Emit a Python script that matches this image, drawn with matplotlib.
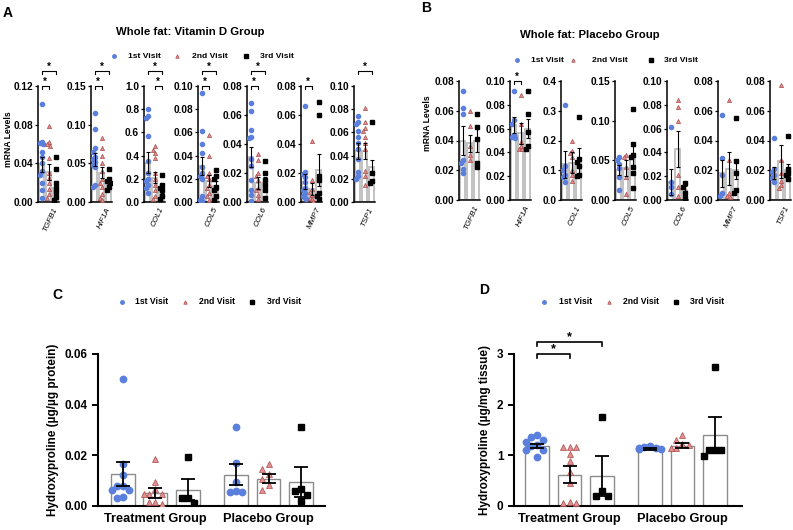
import numpy as np
import matplotlib
matplotlib.use("Agg")
import matplotlib.pyplot as plt
from matplotlib.lines import Line2D

plt.rcParams['font.family'] = ['Liberation Sans', 'DejaVu Sans']
plt.rcParams['font.weight'] = 'bold'
plt.rcParams['axes.labelweight'] = 'bold'

BLUE = '#5b7fdc'
RED = '#e39090'
RED_EDGE = '#a94a4a'

genes = ['TGFB1', 'HIF1A', 'COL1', 'COL5', 'COL6', 'MMP7', 'TSP1']
visits = ['1st Visit', '2nd Visit', '3rd Visit']

# ---- panel A: whole fat, vitamin D group ----
a_ymax = [0.12, 0.15, 1.0, 0.10, 0.08, 0.08, 0.10]
a_ystep = [0.04, 0.05, 0.2, 0.02, 0.02, 0.02, 0.02]
a_visit1 = [
    [0.101, 0.062, 0.061, 0.060, 0.052, 0.047, 0.040, 0.032, 0.028, 0.020, 0.012, 0.004],
    [0.115, 0.095, 0.070, 0.065, 0.058, 0.055, 0.052, 0.048, 0.045, 0.022, 0.020],
    [0.80, 0.74, 0.72, 0.57, 0.35, 0.25, 0.20, 0.18, 0.15, 0.12, 0.08],
    [0.094, 0.061, 0.050, 0.042, 0.030, 0.025, 0.022, 0.020, 0.005, 0.002, 0.001],
    [0.068, 0.063, 0.050, 0.045, 0.044, 0.030, 0.025, 0.015, 0.008, 0.005, 0.001],
    [0.066, 0.021, 0.019, 0.017, 0.014, 0.010, 0.008, 0.006, 0.004, 0.003, 0.002],
    [0.074, 0.069, 0.067, 0.061, 0.056, 0.051, 0.046, 0.037, 0.026, 0.022, 0.020],
]
a_visit2 = [
    [0.079, 0.062, 0.060, 0.058, 0.046, 0.030, 0.025, 0.020, 0.013, 0.008, 0.004],
    [0.083, 0.070, 0.060, 0.050, 0.040, 0.030, 0.025, 0.020, 0.010, 0.005, 0.003],
    [0.48, 0.45, 0.42, 0.38, 0.25, 0.20, 0.15, 0.10, 0.05, 0.03],
    [0.058, 0.040, 0.025, 0.022, 0.020, 0.015, 0.012, 0.008, 0.005, 0.002],
    [0.033, 0.029, 0.020, 0.018, 0.015, 0.010, 0.008, 0.005, 0.002],
    [0.042, 0.015, 0.009, 0.007, 0.005, 0.003, 0.002, 0.001],
    [0.081, 0.069, 0.064, 0.061, 0.056, 0.051, 0.046, 0.027, 0.022, 0.015],
]
a_visit3 = [
    [0.047, 0.034, 0.020, 0.015, 0.010, 0.005, 0.002],
    [0.043, 0.030, 0.027, 0.025, 0.020, 0.015],
    [0.23, 0.15, 0.12, 0.10, 0.05, 0.03],
    [0.028, 0.022, 0.020, 0.013, 0.010, 0.005, 0.002],
    [0.028, 0.020, 0.015, 0.012, 0.008, 0.003],
    [0.069, 0.060, 0.018, 0.015, 0.006, 0.004, 0.002],
    [0.069, 0.025, 0.018, 0.016],
]
a_mean = [[0.039, 0.031, 0.015], [0.055, 0.038, 0.027], [0.34, 0.21, 0.11],
          [0.031, 0.018, 0.014], [0.031, 0.013, 0.013], [0.014, 0.009, 0.022],
          [0.044, 0.044, 0.030]]
a_sem = [[0.008, 0.008, 0.007], [0.008, 0.007, 0.004], [0.09, 0.05, 0.03],
         [0.008, 0.005, 0.004], [0.007, 0.004, 0.004], [0.005, 0.004, 0.011],
         [0.007, 0.007, 0.006]]
# (bar i, bar j, level)
a_sig = [[(0, 1, 0), (0, 2, 1)], [(0, 1, 0), (0, 2, 1)], [(1, 2, 0), (0, 2, 1)],
         [(0, 1, 0), (0, 2, 1)], [(0, 1, 0), (0, 2, 1)], [(0, 1, 0)], [(0, 2, 1)]]

# ---- panel B: whole fat, placebo group ----
b_ymax = [0.08, 0.10, 0.4, 0.15, 0.10, 0.08, 0.08]
b_ystep = [0.02, 0.02, 0.1, 0.05, 0.02, 0.02, 0.02]
b_visit1 = [
    [0.073, 0.062, 0.058, 0.027, 0.025, 0.021, 0.018],
    [0.092, 0.067, 0.064, 0.055, 0.053, 0.052],
    [0.32, 0.114, 0.10, 0.084, 0.076, 0.062],
    [0.054, 0.050, 0.046, 0.040, 0.029, 0.013],
    [0.061, 0.015, 0.011, 0.005],
    [0.057, 0.028, 0.017, 0.0045, 0.003],
    [0.042, 0.021, 0.019, 0.017, 0.015, 0.012],
]
b_visit2 = [
    [0.060, 0.050, 0.036, 0.030, 0.027],
    [0.088, 0.064, 0.049, 0.045, 0.043, 0.043],
    [0.20, 0.165, 0.157, 0.143, 0.10, 0.084, 0.065],
    [0.057, 0.054, 0.042, 0.029, 0.008],
    [0.084, 0.078, 0.066, 0.021, 0.011, 0.003],
    [0.067, 0.027, 0.0045, 0.003, 0.002],
    [0.077, 0.027, 0.018, 0.013, 0.010, 0.008],
]
b_visit3 = [
    [0.058, 0.049, 0.041, 0.025, 0.022],
    [0.092, 0.072, 0.057, 0.045, 0.043],
    [0.28, 0.137, 0.129, 0.114, 0.084, 0.08],
    [0.115, 0.071, 0.057, 0.054, 0.042, 0.034, 0.015],
    [0.014, 0.011, 0.006, 0.002],
    [0.055, 0.026, 0.018, 0.007, 0.0045],
    [0.043, 0.021, 0.018, 0.017, 0.014],
]
b_mean = [[0.040, 0.038, 0.040], [0.063, 0.056, 0.060], [0.12, 0.125, 0.13],
          [0.038, 0.040, 0.055], [0.015, 0.043, 0.008], [0.018, 0.021, 0.020],
          [0.018, 0.026, 0.020]]
b_sem = [[0.010, 0.006, 0.008], [0.007, 0.009, 0.008], [0.045, 0.035, 0.045],
         [0.006, 0.010, 0.013], [0.011, 0.015, 0.004], [0.009, 0.011, 0.006],
         [0.004, 0.011, 0.004]]
b_sig = [[], [(0, 1, 0)], [], [], [], [], []]

# ---- panel C / D: hydroxyproline ----
groups = ['Treatment Group', 'Placebo Group']
c_points = [
    [0.050, 0.0164, 0.0124, 0.0077, 0.0077, 0.0065, 0.0063, 0.0035, 0.0033],
    [0.0185, 0.0095, 0.0066, 0.0046, 0.0046, 0.0046, 0.0016, 0.0016, 0.0009],
    [0.0193, 0.0032, 0.0032, 0.0011],
    [0.031, 0.0168, 0.0095, 0.0058, 0.0056, 0.0054],
    [0.0164, 0.0148, 0.0128, 0.0108, 0.0082, 0.0062],
    [0.0313, 0.0069, 0.0060, 0.0045, 0.0019],
]
c_mean = [0.0125, 0.0052, 0.0065, 0.0124, 0.0108, 0.0095]
c_sem = [0.0048, 0.0020, 0.0043, 0.0042, 0.0018, 0.0060]

d_points = [
    [1.40, 1.36, 1.30, 1.27, 1.20, 1.18, 1.11, 1.11, 0.97],
    [1.17, 1.17, 1.17, 1.02, 0.88, 0.67, 0.46, 0.08, 0.06, 0.06],
    [1.76, 0.29, 0.20, 0.20],
    [1.18, 1.16, 1.15, 1.14, 1.13, 1.12],
    [1.40, 1.31, 1.23, 1.20, 1.15, 1.15],
    [2.75, 1.11, 1.11, 1.10, 0.98],
]
d_mean = [1.18, 0.62, 0.59, 1.13, 1.19, 1.40]
d_sem = [0.045, 0.16, 0.39, 0.02, 0.05, 0.35]

W, H = 793, 530
fig = plt.figure(figsize=(W / 100, H / 100), dpi=100)

MARK = [dict(marker='o', color=BLUE, mec=BLUE),
        dict(marker='^', color=RED, mec=RED_EDGE, mew=0.5),
        dict(marker='s', color='k', mec='k')]


def rect(l, t, w, h):
    return [l / W, 1 - (t + h) / H, w / W, h / H]


def swarm(vals, center, span, step, dy, half):
    vals = np.asarray(vals, float)
    xs = np.zeros(len(vals))
    placed = []
    for i in np.argsort(-vals):
        for c in [0, -1, 1, -2, 2, -3, 3]:
            x = c * step
            if all(abs(vals[i] - vals[j]) > dy * span or abs(x - xs[j]) > step * 0.9
                   for j in placed):
                break
        xs[i] = x
        placed.append(i)
    return center + np.clip(xs, -half, half)


def star_bracket(ax, x1, x2, y, tick, trans, lw, fs):
    ax.plot([x1, x1, x2, x2], [y - tick, y, y, y - tick], color='k', lw=lw,
            transform=trans, clip_on=False)
    ax.annotate('*', xy=((x1 + x2) / 2, y), xycoords=trans, xytext=(0, 3.2),
                textcoords='offset points', ha='center', va='center', fontsize=fs)


def gene_panel(lefts, top, height, ymax, ystep, v1, v2, v3, means, sems, sigs, tick_fs):
    for k, gene in enumerate(genes):
        ax = fig.add_axes(rect(lefts[k], top, 21, height))
        pts = [v1[k], v2[k], v3[k]]
        ax.bar(range(3), means[k], width=0.8, color='white', edgecolor='#bdbdbd',
               lw=1.3, zorder=1)
        for i in range(3):
            xs = swarm(pts[i], i, ymax[k], 0.22, 0.035, 0.3)
            ax.plot(xs, pts[i], ls='none', ms=3, zorder=3, **MARK[i])
        ax.errorbar(range(3), means[k], yerr=sems[k], fmt='none', ecolor='k',
                    elinewidth=0.8, capsize=1.5, capthick=0.8, zorder=4)
        ax.set_xlim(-0.5, 2.5)
        ax.set_ylim(0, ymax[k])
        ticks = np.arange(0, ymax[k] + 1e-9, ystep[k])
        ax.set_yticks(ticks)
        fmt = '%.1f' if ystep[k] >= 0.1 else '%.2f'
        ax.set_yticklabels([fmt % t for t in ticks], fontsize=tick_fs, fontweight='bold')
        ax.set_xticks([])
        for s in ['top', 'right']:
            ax.spines[s].set_visible(False)
        for s in ['left', 'bottom']:
            ax.spines[s].set_linewidth(1.1)
        ax.tick_params(axis='y', length=2.5, width=0.9, pad=1)
        tr = ax.get_xaxis_transform()
        ax.text(2.05, -0.05, gene, transform=tr, rotation=65, ha='right', va='center',
                rotation_mode='anchor', fontsize=5.8, style='italic', fontweight='normal')
        for (i, j, lev) in sigs[k]:
            star_bracket(ax, i, j, 1.0 + 0.13 * lev, 0.026, tr, 0.8, 7)


def legend_row(y, mx, tx, fs, ms):
    for i in range(3):
        fig.add_artist(Line2D([mx[i] / W], [1 - y / H], transform=fig.transFigure,
                              ls='none', ms=ms, **MARK[i]))
        fig.text(tx[i] / W, 1 - y / H, visits[i], ha='left', va='center',
                 fontsize=fs, fontweight='bold')


# panel A
gene_panel([38, 91, 144, 198, 247, 301, 354], 86, 116, a_ymax, a_ystep,
           a_visit1, a_visit2, a_visit3, a_mean, a_sem, a_sig, 7.3)
fig.text(8 / W, 1 - 13 / H, 'A', fontsize=10, fontweight='bold', ha='center', va='center')
fig.text(190 / W, 1 - 32 / H, 'Whole fat: Vitamin D Group', fontsize=8.2,
         fontweight='bold', ha='center', va='center')
legend_row(56, [114, 177, 246], [128, 192, 260], 6.1, 2.5)
fig.text(9 / W, 1 - 139 / H, 'mRNA Levels', rotation=90, fontsize=6.2,
         fontweight='bold', ha='center', va='center')

# panel B
gene_panel([459, 510, 561, 615, 667, 718, 770], 81, 119, b_ymax, b_ystep,
           b_visit1, b_visit2, b_visit3, b_mean, b_sem, b_sig, 7.3)
fig.text(426 / W, 1 - 8 / H, 'B', fontsize=10, fontweight='bold', ha='center', va='center')
fig.text(590 / W, 1 - 35 / H, 'Whole fat: Placebo Group', fontsize=8.2,
         fontweight='bold', ha='center', va='center')
legend_row(60, [517, 573, 651], [531, 592, 664], 6.1, 2.5)
fig.text(428 / W, 1 - 123 / H, 'mRNA Levels', rotation=90, fontsize=6.2,
         fontweight='bold', ha='center', va='center')


def hyp_panel(left, width, points, means, sems, ymax, ystep, fmt, ylabel):
    ax = fig.add_axes(rect(left, 354, width, 152))
    xpos = [0, 1, 2, 3.47, 4.47, 5.47]
    ax.bar(xpos, means, width=0.73, color='white', edgecolor='#8c8c8c', lw=1.0, zorder=1)
    for i in range(6):
        xs = swarm(points[i], xpos[i], ymax, 0.19, 0.045, 0.34)
        ax.plot(xs, points[i], ls='none', ms=4.6, zorder=3, **MARK[i % 3])
    ax.errorbar(xpos, means, yerr=sems, fmt='none', ecolor='k', elinewidth=1.3,
                capsize=5, capthick=1.3, zorder=4)
    ax.set_ylim(0, ymax)
    ticks = np.arange(0, ymax + 1e-9, ystep)
    ax.set_yticks(ticks)
    ax.set_yticklabels([fmt % t for t in ticks], fontsize=8.5, fontweight='bold')
    ax.set_xticks([1, 4.47])
    ax.set_xticklabels(groups, fontsize=9.2, fontweight='bold')
    ax.tick_params(axis='x', length=0, pad=5)
    ax.tick_params(axis='y', length=4, width=1.4)
    for s in ['top', 'right']:
        ax.spines[s].set_visible(False)
    for s in ['left', 'bottom']:
        ax.spines[s].set_linewidth(1.5)
    ax.set_ylabel(ylabel, fontsize=8.5, fontweight='bold', labelpad=4)
    return ax


axc = hyp_panel(98, 227, c_points, c_mean, c_sem, 0.06, 0.02, '%.2f',
                'Hydroxyproline (µg/µg protein)')
axc.set_xlim(-0.76, 6.2)
fig.text(57 / W, 1 - 295 / H, 'C', fontsize=10, fontweight='bold', ha='center', va='center')
legend_row(302, [122, 185, 252], [135, 199, 267], 6.2, 2.5)

axd = hyp_panel(514, 228, d_points, d_mean, d_sem, 3, 1, '%d',
                'Hydroxyproline (µg/mg tissue)')
axd.set_xlim(-0.71, 6.3)
star_bracket(axd, 0, 1, 3.0, 0.08, axd.transData, 1.2, 9)
star_bracket(axd, 0, 2, 3.24, 0.08, axd.transData, 1.2, 9)
fig.text(484 / W, 1 - 290 / H, 'D', fontsize=10, fontweight='bold', ha='center', va='center')
legend_row(302, [544, 609, 676], [559, 623, 690], 6.2, 2.5)

fig.savefig('out.png', dpi=100)
